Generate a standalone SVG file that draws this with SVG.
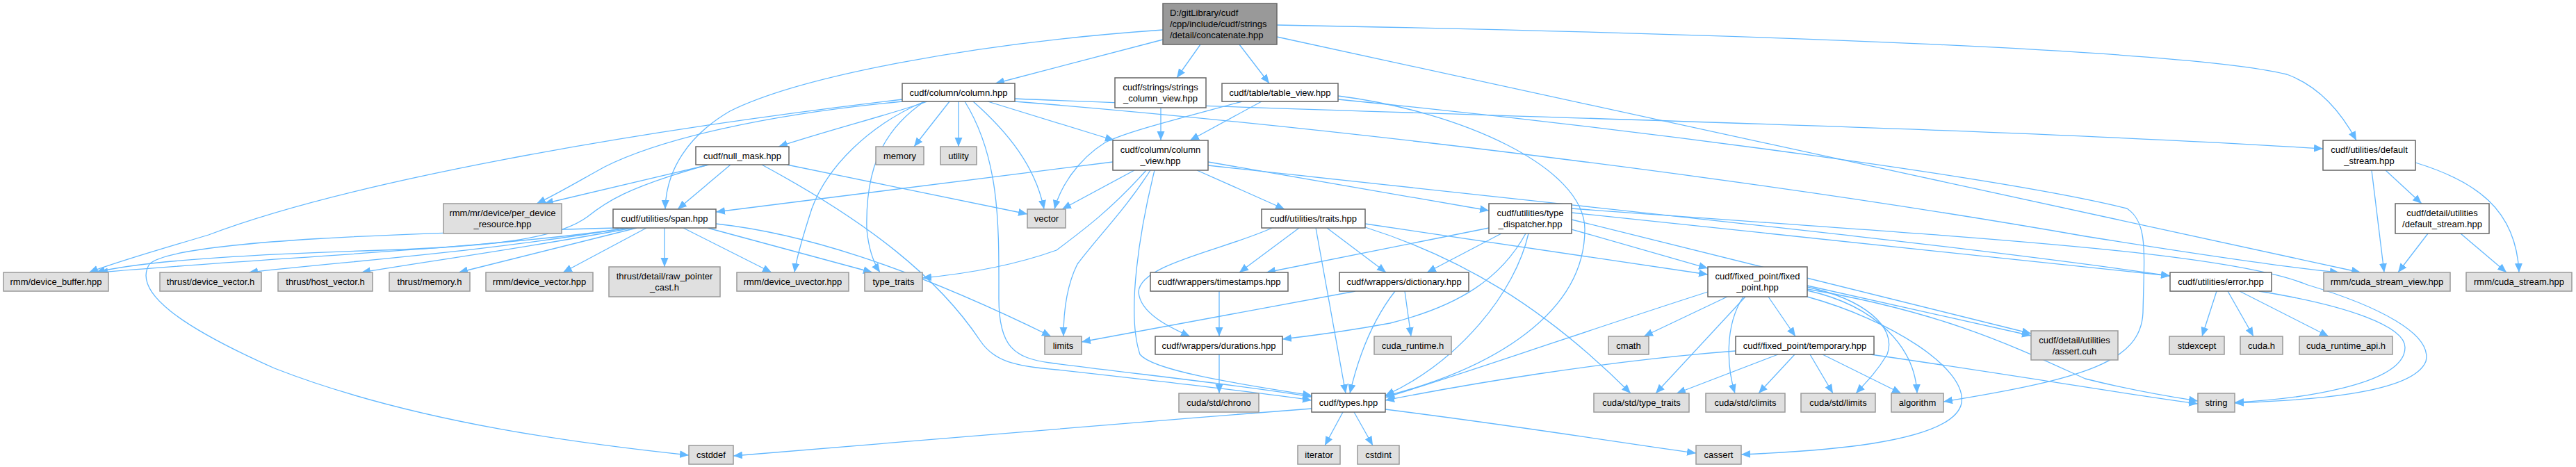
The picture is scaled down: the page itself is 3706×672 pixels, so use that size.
<svg xmlns="http://www.w3.org/2000/svg" width="3706" height="672" viewBox="0 0 3706 672">
<style>
text{font-family:"Liberation Sans",Arial,Helvetica,sans-serif;font-size:13px;fill:#000;text-anchor:middle}
.w rect{fill:#fff;stroke:#666;stroke-width:1.5}
.g rect{fill:#e0e0e0;stroke:#999;stroke-width:1.5}
.r rect{fill:#999;stroke:#666;stroke-width:1.5}
.r text{text-anchor:start}
#edges path{fill:none;stroke:#63b8ff;stroke-width:1.3;marker-end:url(#a)}
</style>
<defs>
<marker id="a" markerUnits="userSpaceOnUse" markerWidth="14" markerHeight="12" refX="13" refY="5.5" orient="auto"><path d="M0,0 L13,5.5 L0,11 z" fill="#63b8ff"/></marker>
</defs>
<rect width="3706" height="672" fill="#fff"/>
<g id="edges">
<path d="M1673,57 L1432,120"/>
<path d="M1727,64 L1693,112"/>
<path d="M1783,64 L1826,120"/>
<path d="M1837,36 C2500,48 3150,72 3290,107 C3340,125 3370,165 3390,202"/>
<path d="M1673,43 C1400,62 1150,110 1050,160 C990,195 958,245 957,301"/>
<path d="M1837,53 L3396,392"/>
<path d="M1421,146 L1603,202"/>
<path d="M1334,146 C1280,165 1200,185 1120,211"/>
<path d="M1388,146 C1440,230 1437,330 1437,430 C1437,500 1460,515 1510,522 C1650,540 1800,556 1887,571"/>
<path d="M1460,142 C2000,165 2800,180 3342,214"/>
<path d="M1460,146 C2000,190 2600,270 3000,340 C3200,372 3300,386 3365,392"/>
<path d="M1298,143 C900,190 500,262 300,338 C220,362 170,376 128,392"/>
<path d="M1330,146 C1250,180 1190,240 1168,300 C1155,340 1146,370 1143,392"/>
<path d="M1298,146 C1100,165 950,200 870,240 C830,262 800,280 772,293"/>
<path d="M1366,146 L1315,211"/>
<path d="M1379,146 L1379,211"/>
<path d="M1330,146 C1265,190 1245,250 1247,330 C1250,362 1258,380 1266,392"/>
<path d="M1400,146 C1450,190 1490,240 1502,301"/>
<path d="M1020,237 L783,293"/>
<path d="M1019,237 C900,270 870,292 845,312 C800,345 700,355 550,360 C350,366 200,376 138,392"/>
<path d="M1051,237 L975,301"/>
<path d="M1096,237 C1250,320 1350,400 1410,490 C1430,520 1460,527 1520,532 C1700,552 1820,566 1887,576"/>
<path d="M1132,237 L1478,308"/>
<path d="M904,328 C700,358 400,370 142,392"/>
<path d="M900,328 C700,362 500,376 358,392"/>
<path d="M910,328 C750,358 620,375 520,392"/>
<path d="M916,328 L660,392"/>
<path d="M930,328 L810,392"/>
<path d="M956,328 L956,384"/>
<path d="M983,328 L1110,392"/>
<path d="M1018,328 L1255,392"/>
<path d="M1030,322 C1150,335 1300,380 1512,484"/>
<path d="M890,328 C600,335 250,345 215,380 C190,420 260,470 395,530 C600,610 850,640 991,655"/>
<path d="M1670,155 L1670,202"/>
<path d="M1815,146 L1712,202"/>
<path d="M1787,146 C1680,175 1620,190 1590,205 C1550,230 1525,270 1517,301"/>
<path d="M1925,138 C2100,160 2280,240 2280,330 C2280,450 2150,530 1993,570"/>
<path d="M1925,143 C2400,190 2900,260 3060,300 C3090,320 3085,360 3083,450 C3080,520 3000,545 2796,578"/>
<path d="M1601,233 L1030,305"/>
<path d="M1632,245 L1528,301"/>
<path d="M1649,245 C1600,300 1560,330 1520,360 C1450,385 1380,395 1327,400"/>
<path d="M1655,245 C1620,300 1580,340 1550,380 C1535,410 1530,450 1530,484"/>
<path d="M1661,245 C1640,330 1620,450 1640,510 C1660,535 1800,555 1887,569"/>
<path d="M1722,245 L1848,301"/>
<path d="M1738,233 L2142,303"/>
<path d="M1738,238 C2300,300 2800,350 3122,397"/>
<path d="M1869,328 L1783,392"/>
<path d="M1909,328 L1994,392"/>
<path d="M1830,328 C1760,360 1640,380 1638,420 C1640,450 1680,470 1712,484"/>
<path d="M1893,328 L1936,566"/>
<path d="M1964,327 C2100,370 2220,440 2346,566"/>
<path d="M1964,322 L2457,395"/>
<path d="M2142,328 L1822,392"/>
<path d="M2160,336 L2053,392"/>
<path d="M2195,336 C2160,400 2100,440 2000,465 C1930,478 1880,484 1845,488"/>
<path d="M2199,336 C2180,420 2100,520 1993,569"/>
<path d="M2261,330 L2457,386"/>
<path d="M2261,316 L2922,480"/>
<path d="M2261,306 L3122,397"/>
<path d="M2261,300 C2800,340 3200,360 3320,410 C3420,440 3500,480 3490,520 C3470,570 3300,576 3215,580"/>
<path d="M2457,420 C2300,470 2100,540 1993,572"/>
<path d="M2485,427 L2365,484"/>
<path d="M2511,427 L2382,566"/>
<path d="M2508,427 C2480,470 2485,530 2496,566"/>
<path d="M2544,427 L2583,484"/>
<path d="M2600,413 C2680,430 2730,470 2715,510 C2700,535 2685,550 2670,566"/>
<path d="M2600,418 C2700,440 2755,500 2758,566"/>
<path d="M2600,427 C2720,460 2830,530 2822,580 C2810,640 2600,650 2505,654"/>
<path d="M2600,411 L2922,483"/>
<path d="M2600,416 C2800,450 2900,500 3000,545 C3080,565 3130,572 3162,577"/>
<path d="M2497,505 C2300,520 2100,555 1993,576"/>
<path d="M2558,510 L2412,566"/>
<path d="M2582,510 L2530,566"/>
<path d="M2604,510 L2637,566"/>
<path d="M2622,510 L2735,566"/>
<path d="M2691,510 C2900,540 3050,566 3162,581"/>
<path d="M2007,419 C1975,460 1955,510 1942,566"/>
<path d="M2021,419 L2030,484"/>
<path d="M1950,419 L1556,492"/>
<path d="M1754,419 L1754,484"/>
<path d="M1754,510 L1754,566"/>
<path d="M1932,593 L1906,641"/>
<path d="M1948,593 L1975,641"/>
<path d="M1887,588 C1600,610 1300,635 1055,656"/>
<path d="M1993,589 C2200,615 2350,640 2440,652"/>
<path d="M3189,419 L3168,484"/>
<path d="M3205,419 L3242,484"/>
<path d="M3222,419 L3350,484"/>
<path d="M3250,419 C3380,440 3460,470 3460,500 C3460,555 3300,575 3215,579"/>
<path d="M3412,245 L3430,392"/>
<path d="M3432,245 L3484,293"/>
<path d="M3475,234 C3560,260 3620,300 3624,392"/>
<path d="M3493,336 L3450,392"/>
<path d="M3540,336 L3606,392"/>
</g>
<g id="root" class="r"><rect x="1673" y="5" width="164" height="59"/><text x="1683" y="23">D:/gitLibrary/cudf</text><text x="1683" y="39">/cpp/include/cudf/strings</text><text x="1683" y="55">/detail/concatenate.hpp</text></g>
<g id="column" class="w"><rect x="1298" y="120" width="162" height="26"/><text x="1379" y="137.5">cudf/column/column.hpp</text></g>
<g id="strings_column_view" class="w"><rect x="1604" y="112" width="131" height="43"/><text x="1669.5" y="130">cudf/strings/strings</text><text x="1669.5" y="146">_column_view.hpp</text></g>
<g id="table_view" class="w"><rect x="1758" y="120" width="167" height="26"/><text x="1841.5" y="137.5">cudf/table/table_view.hpp</text></g>
<g id="null_mask" class="w"><rect x="1001" y="211" width="134" height="26"/><text x="1068" y="228.5">cudf/null_mask.hpp</text></g>
<g id="memory" class="g"><rect x="1260" y="211" width="69" height="26"/><text x="1294.5" y="228.5">memory</text></g>
<g id="utility" class="g"><rect x="1353" y="211" width="52" height="26"/><text x="1379" y="228.5">utility</text></g>
<g id="column_view" class="w"><rect x="1601" y="202" width="137" height="43"/><text x="1669.5" y="220">cudf/column/column</text><text x="1669.5" y="236">_view.hpp</text></g>
<g id="default_stream" class="w"><rect x="3342" y="202" width="133" height="43"/><text x="3408.5" y="220">cudf/utilities/default</text><text x="3408.5" y="236">_stream.hpp</text></g>
<g id="per_device_resource" class="g"><rect x="638" y="293" width="170" height="43"/><text x="723" y="311">rmm/mr/device/per_device</text><text x="723" y="327">_resource.hpp</text></g>
<g id="span" class="w"><rect x="882" y="301" width="148" height="27"/><text x="956" y="319">cudf/utilities/span.hpp</text></g>
<g id="vector" class="g"><rect x="1478" y="301" width="55" height="27"/><text x="1505.5" y="319">vector</text></g>
<g id="traits" class="w"><rect x="1815" y="301" width="149" height="27"/><text x="1889.5" y="319">cudf/utilities/traits.hpp</text></g>
<g id="type_dispatcher" class="w"><rect x="2142" y="293" width="119" height="43"/><text x="2201.5" y="311">cudf/utilities/type</text><text x="2201.5" y="327">_dispatcher.hpp</text></g>
<g id="detail_default_stream" class="w"><rect x="3446" y="293" width="135" height="43"/><text x="3513.5" y="311">cudf/detail/utilities</text><text x="3513.5" y="327">/default_stream.hpp</text></g>
<g id="device_buffer" class="g"><rect x="5" y="392" width="151" height="27"/><text x="80.5" y="410">rmm/device_buffer.hpp</text></g>
<g id="thrust_device_vector" class="g"><rect x="230" y="392" width="146" height="27"/><text x="303" y="410">thrust/device_vector.h</text></g>
<g id="thrust_host_vector" class="g"><rect x="400" y="392" width="136" height="27"/><text x="468" y="410">thrust/host_vector.h</text></g>
<g id="thrust_memory" class="g"><rect x="560" y="392" width="116" height="27"/><text x="618" y="410">thrust/memory.h</text></g>
<g id="rmm_device_vector" class="g"><rect x="699" y="392" width="154" height="27"/><text x="776" y="410">rmm/device_vector.hpp</text></g>
<g id="raw_pointer_cast" class="g"><rect x="876" y="384" width="160" height="43"/><text x="956" y="402">thrust/detail/raw_pointer</text><text x="956" y="418">_cast.h</text></g>
<g id="device_uvector" class="g"><rect x="1060" y="392" width="161" height="27"/><text x="1140.5" y="410">rmm/device_uvector.hpp</text></g>
<g id="type_traits" class="g"><rect x="1244" y="392" width="83" height="27"/><text x="1285.5" y="410">type_traits</text></g>
<g id="timestamps" class="w"><rect x="1655" y="392" width="198" height="27"/><text x="1754" y="410">cudf/wrappers/timestamps.hpp</text></g>
<g id="dictionary" class="w"><rect x="1927" y="392" width="186" height="27"/><text x="2020" y="410">cudf/wrappers/dictionary.hpp</text></g>
<g id="fixed_point" class="w"><rect x="2457" y="384" width="143" height="43"/><text x="2528.5" y="402">cudf/fixed_point/fixed</text><text x="2528.5" y="418">_point.hpp</text></g>
<g id="error" class="w"><rect x="3122" y="392" width="146" height="27"/><text x="3195" y="410">cudf/utilities/error.hpp</text></g>
<g id="cuda_stream_view" class="g"><rect x="3343" y="392" width="182" height="27"/><text x="3434" y="410">rmm/cuda_stream_view.hpp</text></g>
<g id="cuda_stream" class="g"><rect x="3548" y="392" width="152" height="27"/><text x="3624" y="410">rmm/cuda_stream.hpp</text></g>
<g id="limits" class="g"><rect x="1503" y="484" width="53" height="26"/><text x="1529.5" y="501.5">limits</text></g>
<g id="durations" class="w"><rect x="1662" y="484" width="183" height="26"/><text x="1753.5" y="501.5">cudf/wrappers/durations.hpp</text></g>
<g id="cuda_runtime" class="g"><rect x="1977" y="484" width="111" height="26"/><text x="2032.5" y="501.5">cuda_runtime.h</text></g>
<g id="cmath" class="g"><rect x="2314" y="484" width="58" height="26"/><text x="2343" y="501.5">cmath</text></g>
<g id="temporary" class="w"><rect x="2497" y="484" width="199" height="26"/><text x="2596.5" y="501.5">cudf/fixed_point/temporary.hpp</text></g>
<g id="assert" class="g"><rect x="2922" y="476" width="125" height="42"/><text x="2984.5" y="493.5">cudf/detail/utilities</text><text x="2984.5" y="509.5">/assert.cuh</text></g>
<g id="stdexcept" class="g"><rect x="3121" y="484" width="79" height="26"/><text x="3160.5" y="501.5">stdexcept</text></g>
<g id="cuda_h" class="g"><rect x="3223" y="484" width="61" height="26"/><text x="3253.5" y="501.5">cuda.h</text></g>
<g id="cuda_runtime_api" class="g"><rect x="3308" y="484" width="134" height="26"/><text x="3375" y="501.5">cuda_runtime_api.h</text></g>
<g id="chrono" class="g"><rect x="1696" y="566" width="115" height="27"/><text x="1753.5" y="584">cuda/std/chrono</text></g>
<g id="types" class="w"><rect x="1887" y="566" width="106" height="27"/><text x="1940" y="584">cudf/types.hpp</text></g>
<g id="cuda_type_traits" class="g"><rect x="2293" y="566" width="137" height="27"/><text x="2361.5" y="584">cuda/std/type_traits</text></g>
<g id="climits" class="g"><rect x="2454" y="566" width="114" height="27"/><text x="2511" y="584">cuda/std/climits</text></g>
<g id="cuda_limits" class="g"><rect x="2591" y="566" width="107" height="27"/><text x="2644.5" y="584">cuda/std/limits</text></g>
<g id="algorithm" class="g"><rect x="2721" y="566" width="75" height="27"/><text x="2758.5" y="584">algorithm</text></g>
<g id="string" class="g"><rect x="3162" y="566" width="53" height="27"/><text x="3188.5" y="584">string</text></g>
<g id="cstddef" class="g"><rect x="991" y="641" width="64" height="27"/><text x="1023" y="659">cstddef</text></g>
<g id="iterator" class="g"><rect x="1867" y="641" width="61" height="27"/><text x="1897.5" y="659">iterator</text></g>
<g id="cstdint" class="g"><rect x="1953" y="641" width="60" height="27"/><text x="1983" y="659">cstdint</text></g>
<g id="cassert" class="g"><rect x="2440" y="641" width="65" height="27"/><text x="2472.5" y="659">cassert</text></g>
</svg>
